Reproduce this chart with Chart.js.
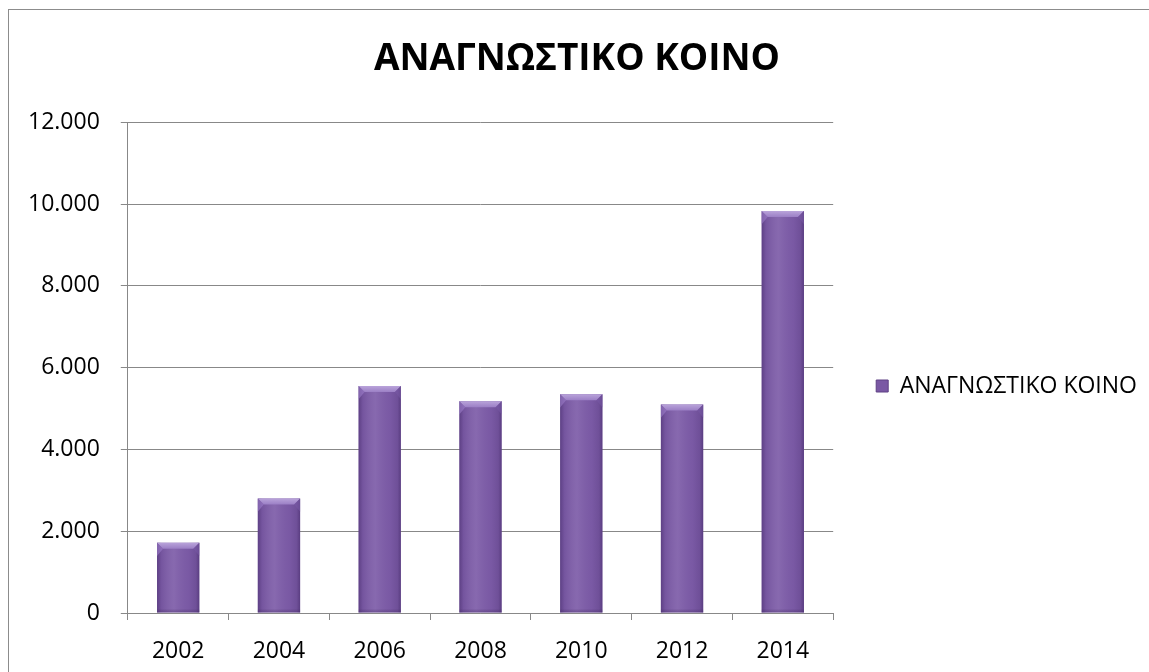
<!DOCTYPE html>
<html>
<head>
<meta charset="utf-8">
<script src="https://cdn.jsdelivr.net/npm/chart.js@4.4.1/dist/chart.umd.min.js"></script>
<style>
html,body{margin:0;padding:0;background:#fff;overflow:hidden;}
#wrap{position:absolute;left:0;top:0;width:1149px;height:672px;}
#frame{position:absolute;left:8px;top:9px;width:1200px;height:700px;border-left:1px solid #8c8c8c;border-top:1px solid #8c8c8c;box-sizing:border-box;}
canvas{position:absolute;left:0;top:0;}
</style>
</head>
<body>
<div id="wrap">
<div id="frame"></div>
<canvas id="c" width="1149" height="672"></canvas>
</div>
<script>
const titleText = "ΑΝΑΓΝΩΣΤΙΚΟ ΚΟΙΝΟ";
const seriesName = "ΑΝΑΓΝΩΣΤΙΚΟ ΚΟΙΝΟ";
const years = ["2002","2004","2006","2008","2010","2012","2014"];
const readers = [1720, 2800, 5550, 5180, 5350, 5100, 9830];
const yTicks = [0, 2000, 4000, 6000, 8000, 10000, 12000];

const FONT = "'Open Sans', 'Noto Sans', sans-serif";

// shading overlay + bevel drawn on top of each library-positioned bar
const bevel = {
  id:'bevel',
  beforeLayout(chart){
    const lg = chart.legend;
    if(lg && !lg._wideWrap){
      const u = lg.update.bind(lg);
      lg.update = (mw, mh, m) => u(Math.max(mw, 420), mh, m);
      lg._wideWrap = true;
    }
  },
  afterDatasetsDraw(chart){
    const c = chart.ctx;
    const meta = chart.getDatasetMeta(0);
    meta.data.forEach(b=>{
      const l = b.x - b.width/2, r = b.x + b.width/2, t = b.y, bt = b.base;
      const w = r - l, h = bt - t;
      const d = Math.min(6, h/2);
      c.save();
      const hg = c.createLinearGradient(l, 0, r, 0);
      hg.addColorStop(0, 'rgba(55,30,90,0.45)');
      hg.addColorStop(0.1, 'rgba(55,30,90,0.12)');
      hg.addColorStop(0.4, 'rgba(255,255,255,0.08)');
      hg.addColorStop(0.75, 'rgba(55,30,90,0.05)');
      hg.addColorStop(0.92, 'rgba(55,30,90,0.2)');
      hg.addColorStop(1, 'rgba(55,30,90,0.5)');
      c.fillStyle = hg;
      c.fillRect(l, t, w, h);
      c.beginPath(); c.moveTo(l,t); c.lineTo(r,t); c.lineTo(r-d,t+d); c.lineTo(l+d,t+d); c.closePath();
      const g = c.createLinearGradient(0,t,0,t+d);
      g.addColorStop(0,'#b9a3da'); g.addColorStop(1,'#9b7fc5');
      c.fillStyle = g; c.fill();
      c.beginPath(); c.moveTo(l,t); c.lineTo(l+d,t+d); c.lineTo(l,t+d*2.2); c.closePath();
      c.fillStyle='rgba(160,130,205,0.55)'; c.fill();
      c.beginPath(); c.moveTo(r,t); c.lineTo(r-d,t+d); c.lineTo(r,t+d*2.2); c.closePath();
      c.fillStyle='rgba(120,90,165,0.55)'; c.fill();
      const bg = c.createLinearGradient(0, bt-4, 0, bt);
      bg.addColorStop(0,'rgba(60,35,90,0)'); bg.addColorStop(1,'rgba(60,35,90,0.35)');
      c.fillStyle = bg;
      c.fillRect(l, bt-4, w, 4);
      c.restore();
    });
  }
};

new Chart(document.getElementById('c'), {
  type:'bar',
  data:{
    labels: years,
    datasets:[{
      label: seriesName,
      data: readers,
      backgroundColor: '#7d5ca8',
      borderWidth: 0,
      barPercentage: 0.42,
      categoryPercentage: 1.0
    }]
  },
  plugins:[bevel],
  options:{
    responsive:false,
    animation:false,
    layout:{padding:{left:7, right:2, top:26, bottom:0}},
    plugins:{
      title:{
        display:true, text:titleText, color:'#000',
        font:{family:FONT, size:37, weight:'bold'},
        padding:{top:11, bottom:41}
      },
      legend:{
        position:'right',
        title:{display:true, text:' ', font:{size:10}, padding:{top:31, bottom:31}},
        labels:{
          color:'#000',
          font:{family:FONT, size:23},
          boxWidth:12, boxHeight:12,
          padding:43,
          generateLabels(chart){
            return [{text:seriesName, fillStyle:'#7a58a4', strokeStyle:'#5f4185', fontColor:'#000', lineWidth:1, hidden:false, datasetIndex:0}];
          }
        }
      },
      tooltip:{enabled:false}
    },
    scales:{
      x:{
        afterFit(scale){ scale.height = 59; },
        grid:{display:true, drawOnChartArea:false, drawTicks:true, tickLength:7, color:'#888', offset:true},
        border:{display:true, color:'#888', width:1},
        ticks:{color:'#000', font:{family:FONT, size:23}, padding:18, maxRotation:0}
      },
      y:{
        min:0, max:12000,
        afterBuildTicks(scale){ scale.ticks = yTicks.map(v=>({value:v})); },
        grid:{color:'#888', tickLength:7, drawTicks:true},
        border:{display:true, color:'#888', width:1},
        ticks:{
          color:'#000', font:{family:FONT, size:23}, padding:21,
          callback:(v)=> v===0 ? '0' : (v/1000).toFixed(0)+'.000'
        }
      }
    }
  }
});
</script>
</body>
</html>
